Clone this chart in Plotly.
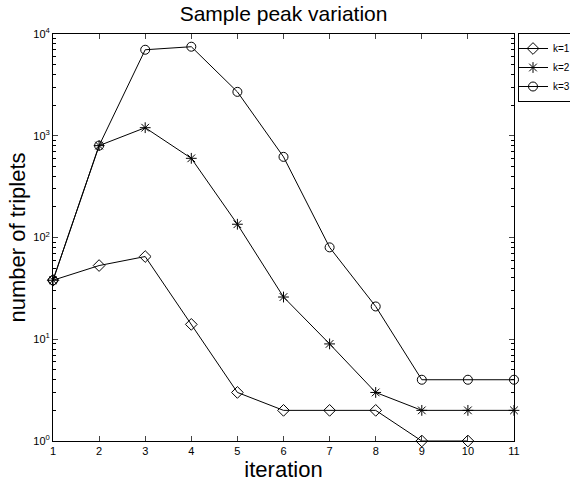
import plotly.graph_objects as go

iterations = [1, 2, 3, 4, 5, 6, 7, 8, 9, 10, 11]
k1 = [38, 53, 65, 14, 3, 2, 2, 2, 1, 1]
k2 = [38, 800, 1200, 600, 135, 26, 9, 3, 2, 2, 2]
k3 = [38, 800, 7000, 7500, 2700, 620, 80, 21, 4, 4, 4]
names = ["k=1", "k=2", "k=3"]
symbols = ["diamond-open", "asterisk-open", "circle-open"]
y_tickvals = [1, 10, 100, 1000, 10000]
y_ticktext = ["10<sup>0</sup>", "10<sup>1</sup>", "10<sup>2</sup>", "10<sup>3</sup>", "10<sup>4</sup>"]

fig = go.Figure()
for ys, name, sym in zip([k1, k2, k3], names, symbols):
    fig.add_trace(go.Scatter(
        x=iterations[:len(ys)], y=ys, name=name, mode="lines+markers",
        line=dict(color="black", width=1),
        marker=dict(symbol=sym, size=9, color="black", line=dict(color="black", width=1)),
        cliponaxis=False,
    ))

font = "Liberation Sans, Arial, Helvetica, sans-serif"
fig.update_layout(
    width=570, height=482,
    margin=dict(l=53, r=56, t=34, b=41, autoexpand=False),
    paper_bgcolor="white", plot_bgcolor="white",
    font=dict(family=font, color="black", size=11),
    title=dict(text="Sample peak variation", x=0.4975, xanchor="center", y=0.971, yanchor="middle",
               font=dict(size=21, family=font)),
    showlegend=True,
    legend=dict(xref="container", yref="container", x=518/570, xanchor="left", y=1 - 33/482, yanchor="top",
                bordercolor="black", borderwidth=1, font=dict(size=10, family=font),
                tracegroupgap=0, itemwidth=30, indentation=-6, bgcolor="white"),
    xaxis=dict(range=[1, 11], tickvals=iterations, ticks="inside", ticklen=5,
               showline=True, linecolor="black", linewidth=1, mirror="ticks",
               showgrid=False, zeroline=False,
               title=dict(text="iteration", font=dict(size=22, family=font), standoff=3),
               tickfont=dict(size=11)),
    yaxis=dict(type="log", range=[0, 4], tickvals=y_tickvals, ticktext=y_ticktext,
               ticks="inside", ticklen=5,
               showline=True, linecolor="black", linewidth=1, mirror="ticks",
               showgrid=False, zeroline=False,
               minor=dict(ticks="inside", ticklen=3, dtick="D1", showgrid=False, tickcolor="black"),
               title=dict(text="number of triplets", font=dict(size=22, family=font), standoff=1),
               tickfont=dict(size=11)),
)
fig.write_html("out.html")
